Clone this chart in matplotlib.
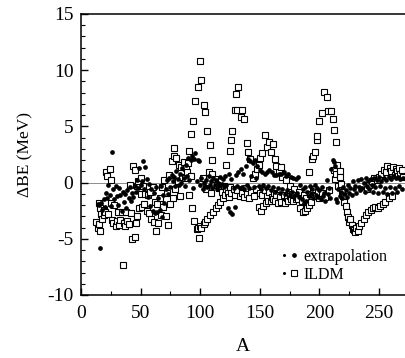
import numpy as np
import matplotlib
matplotlib.use("Agg")
import matplotlib.pyplot as plt
from matplotlib.lines import Line2D
from matplotlib.legend_handler import HandlerTuple

plt.rcParams['font.family'] = ['Liberation Serif', 'DejaVu Serif']
plt.rcParams['axes.unicode_minus'] = False

# extrapolation (filled circles)
ext_A = [14, 15, 16, 17, 18, 19, 20, 21, 22, 23, 24, 25, 26, 27, 28, 29, 30, 31, 32, 33,
         34, 35, 36, 37, 38, 39, 40, 41, 42, 43, 44, 45, 46, 47, 48, 49, 50, 51, 52, 53,
         54, 55, 56, 57, 58, 59, 60, 61, 62, 63, 64, 65, 66, 67, 68, 69, 70, 71, 72, 73,
         74, 75, 76, 77, 78, 79, 80, 81, 82, 83, 84, 85, 86, 87, 88, 89, 90, 91, 92, 93,
         94, 95, 96, 97, 98, 99, 100, 101, 102, 103, 104, 105, 106, 107, 108, 109, 110,
         111, 112, 113, 114, 115, 116, 117, 118, 119, 120, 121, 122, 123, 124, 125, 126,
         127, 128, 129, 130, 131, 132, 133, 134, 135, 136, 137, 138, 139, 140, 141, 142,
         143, 144, 145, 146, 147, 148, 149, 150, 151, 152, 153, 154, 155, 156, 157, 158,
         159, 160, 161, 162, 163, 164, 165, 166, 167, 168, 169, 170, 171, 172, 173, 174,
         175, 176, 177, 178, 179, 180, 181, 182, 183, 184, 185, 186, 187, 188, 189, 190,
         191, 192, 193, 194, 195, 196, 197, 198, 199, 200, 201, 202, 203, 204, 205, 206,
         207, 208, 209, 210, 211, 212, 213, 214, 215, 216, 217, 218, 219, 220, 221, 222,
         223, 224, 225, 226, 227, 228, 229, 230, 231, 232, 233, 234, 235, 236, 237, 238,
         239, 240, 241, 242, 243, 244, 245, 246, 247, 248, 249, 250, 251, 252, 253, 254,
         255, 256, 257, 258, 259, 260, 261, 262, 263, 264, 265, 266, 267, 268, 269, 270]
ext_dBE = [-1.9, -2.0, -5.8, -1.8, -2.4, -1.5, -2.2, -0.9, -1.4, -0.2, -1.1, -2.1, 2.7, -0.6,
           -1.5, -0.3, -1.2, -2.0, -0.5, -1.1, -2.5, -0.8, -1.7, -1.0, -2.3, -0.7, -1.4, -0.4,
           -1.6, -0.9, -1.3, -0.3, -0.8, 0.2, -0.5, 1.3, -0.2, 0.1, 1.9, -0.6, 1.4, 0.3, -1.3,
           -0.1, -2.1, -0.6, -2.5, -0.9, -2.7, -0.4, -2.6, -1.4, -2.4, -0.3, -3.1, -1.1, -1.8,
           -0.6, 0.2, -1.0, 0.4, -0.4, 0.7, 0.1, 0.5, -0.3, 1.0, 0.3, -0.2, 0.8, 0.0, 1.3, 0.4,
           -0.3, 1.6, 0.6, 2.2, 0.2, 2.0, 2.4, -0.5, 2.1, 2.6, 0.1, 2.0, 1.9, -0.2, 0.4, -0.6,
           0.0, -0.3, 0.2, -0.4, 0.6, -0.2, 0.1, -0.5, 0.4, -0.2, 0.2, -0.6, 0.0, -0.3, 0.5,
           -0.1, 0.3, -0.4, 0.6, -0.2, -2.3, 0.8, -2.6, 0.3, -2.8, -0.5, -2.2, 0.7, -0.3, 0.9,
           -0.5, 1.2, -0.4, 0.8, -0.6, 1.5, -0.2, 2.1, -0.5, 1.9, 0.6, 1.7, -0.4, 2.0, 0.4, 1.5,
           -0.3, 1.1, -0.6, 0.9, -0.2, 0.8, -0.5, 0.9, -0.3, 1.1, -0.7, 0.9, -0.4, 0.7, -0.8,
           0.7, -0.5, 0.8, -0.9, 0.8, -0.6, 0.9, -1.0, 0.6, -0.7, 0.8, -1.1, 0.5, -0.8, 0.4,
           -1.2, 0.3, -0.9, 0.5, -1.3, -0.2, -1.5, -0.6, -1.8, -0.4, -1.6, -0.8, -1.2, -0.3,
           -1.0, -0.6, -1.4, -0.2, -1.1, -0.5, -1.3, -0.7, -1.5, -0.4, -1.2, -0.9, -1.6, 0.2,
           -1.0, -0.5, -1.4, 1.2, 2.0, 1.8, 1.5, -1.5, -1.7, -0.6, -1.2, -0.8, -1.4, -0.4, -1.0,
           -0.7, -1.3, -0.2, -0.9, -0.5, -1.1, 0.1, -0.6, -0.3, -0.9, 0.2, -0.4, -0.7, 0.3,
           -0.5, 0.0, -0.8, 0.4, -0.3, 0.1, -0.6, 0.3, -0.2, -0.8, 0.4, -0.4, 0.2, -0.9, 0.5,
           -0.3, 0.1, -0.8, 0.4, -0.5, 0.2, -1.0, 0.5, -0.4, 0.3, -0.9, 0.6, -0.5, 0.4, -0.8,
           0.5, -0.3, 0.3, -0.6, 0.4]

# ILDM (open squares)
ildm_A = [13, 14, 15, 15, 16, 16, 17, 18, 19, 19, 20, 21, 22, 23, 24, 25, 25, 26, 27, 28,
          29, 30, 31, 32, 33, 34, 35, 36, 37, 38, 39, 40, 41, 42, 43, 44, 45, 45, 46, 47,
          47, 48, 49, 50, 50,
          51, 52, 53, 54, 55, 56, 57, 58, 59, 60, 61, 62, 63, 64, 65, 66, 67, 68, 69, 70,
          71, 72, 73, 74, 75,
          76, 77, 78, 78, 79, 80, 81, 82, 83, 84, 85, 86, 87, 88, 89, 90, 91, 91, 92, 92,
          93, 94, 95, 96, 97, 98, 98, 99, 100, 100,
          101, 101, 102, 103, 103, 104, 104, 105, 106, 106, 107, 108, 108, 109, 110, 110,
          111, 112, 113, 114, 115, 116, 117, 118, 119, 120, 121, 122, 122, 123, 124, 125, 125,
          126, 126, 127, 128, 129, 129, 130, 131, 131, 132, 133, 134, 135, 135, 137, 137,
          138, 139, 139, 140, 141, 142, 143, 144, 145, 146, 147, 148, 149, 149, 150, 150,
          151, 152, 152, 153, 154, 154, 155, 156, 156, 157, 158, 158, 159, 159, 160, 161,
          161, 162, 163, 163, 164, 164, 165, 166, 167, 168, 168, 169, 170, 171, 172, 173,
          174, 175, 175,
          176, 177, 178, 179, 180, 181, 182, 183, 184, 185, 186, 187, 188, 189, 190, 191,
          191, 192, 193, 194, 195, 195, 196, 197, 198, 198, 199, 200, 200,
          202, 202, 204, 205, 206, 207, 208, 210, 211, 212, 212, 213, 214, 214, 215, 216,
          217, 217, 218, 219, 220, 221, 222, 223, 224, 225,
          226, 227, 228, 229, 230, 231, 232, 233, 235, 237, 239, 240, 241, 242, 243, 244,
          245, 246, 247, 248, 249, 250, 251, 252, 253, 254, 255, 256, 257, 258, 259, 260,
          261, 262, 263, 264, 265, 266, 267, 268, 269, 270]
ildm_dBE = [-3.5, -4.0, -3.7, -1.8, -4.3, -2.3, -2.8, -3.2, -2.4, -2.9, -2.6, 0.9, 0.6, -2.8,
            1.2, 0.2, -1.8, -3.3, -3.6, -2.0, -3.9, -3.4, -2.6, -3.8, -3.3, -2.6, -7.3, -3.6,
            -3.9, -2.6, -3.4, -3.7, -0.2, -2.7, -5.0, 1.5, -4.8, 1.1, -3.6, -0.3, -3.0, 0.1,
            -2.3, 0.4, -1.0,
            -2.2, -0.3, -1.9, -1.0, -2.5, -1.1, -2.7, -0.8, -3.2, -0.4, -3.5, -1.7, -4.3, -1.9,
            -3.6, -1.4, -2.9, -0.4, -2.2, 0.2, -3.0, -0.9, -3.8, 0.7, -1.9,
            1.9, -1.4, 3.1, 2.4, -0.6, 2.2, 0.1, 1.6, -1.2, 1.4, 0.5, 1.8, 0.4, 1.3, 0.9, 1.7,
            2.8, -1.1, 4.3, 0.6, -2.3, 5.5, -3.4, 7.3, -4.1, 8.5, -4.0, -4.9, 10.8, -3.9,
            9.1, -4.0, 0.4, 6.9, -3.7, 6.3, -3.5, -0.6, 4.6, -3.2, 0.9, 3.3, -2.9, -0.9, 2.0,
            0.8, -2.6, 0.3, -2.3, -0.2, -2.0, -0.5, -1.7, -0.8, -1.4, -0.3, -1.1, 1.6, -0.6,
            -0.9, -1.3, 2.8, -0.4,
            3.8, -0.9, 4.6, -0.6, 6.5, -1.1, 7.9, 6.5, -0.7, 8.5, -1.2, 5.8, 6.5, -0.9, 5.7,
            -1.3, -0.5, 3.5, -1.0, 2.7, -1.4, 2.1, -0.8, 0.4, -1.2, 0.8, -0.6, 1.2, 1.6, -2.2,
            2.2, -0.9,
            -2.5, 2.6, -1.1, -2.1, 4.2, -0.7, -1.8, 3.2, -1.2, -1.6, 3.6, -0.8, 2.7, -1.6,
            -1.3, 3.4, -1.5, -0.9, 2.1, -1.6, 1.5, -1.1, -1.8, 0.9, -1.3, 1.4, -1.7, 0.5, -1.1,
            -1.8, 0.2, -1.4, -1.6, -0.3, -1.2,
            -1.5, -1.0, -1.6, -0.6, -1.5, -1.3, -1.5, -0.8, -2.3, -1.6, -2.6, -1.1, -2.5, -1.4,
            -2.3, 0.9, -2.0, -1.0, -1.7, 2.1, 2.4, -0.6, 2.7, -1.2, 3.8, 4.1, -0.8, 5.5, -1.4,
            6.2, -0.9, 8.1, -1.3, 7.6, 6.4, -0.7, 6.4, 5.7, 4.7, 1.1, 0.3, 3.6, 0.8, 1.6, -0.3,
            1.0, 0.5, -0.1, -0.8, -1.2, -1.7, -2.1, -2.6, -3.1, -3.5,
            -3.2, -3.8, -4.1, -4.2, -4.4, -4.0, -4.3, -3.9, -3.6, -3.2, -2.9, -0.6, -2.6, -0.2,
            -2.4, 0.1, -2.3, 0.4, -2.2, 0.2, -2.3, 0.5, -2.1, 0.8, -1.9, 1.1, -1.7, 0.9, 1.5,
            -1.4, 1.3, 1.0, -1.2, 1.4, 0.7, 1.2, 1.0, 0.6, 1.3, 0.8, 1.1, 0.5]

x_ticks = [0, 50, 100, 150, 200, 250]
y_ticks = [-10, -5, 0, 5, 10, 15]

fig = plt.figure(figsize=(4.05, 3.58), dpi=100)
ax = fig.add_axes([0.2, 0.176, 0.8006, 0.785])

ax.axhline(0, color='0.55', lw=0.7, zorder=1)
ax.plot(ildm_A, ildm_dBE, 's', ms=4.2, mfc='white', mec='black', mew=0.8, zorder=2)
ax.plot(ext_A, ext_dBE, 'o', ms=3.4, color='black', mew=0, zorder=3)

ax.set_xlim(0, 272)
ax.set_ylim(-10, 15)
ax.set_xticks(x_ticks)
ax.set_yticks(y_ticks)
ax.set_xticks(np.arange(0, 275, 25), minor=True)
ax.set_yticks(np.arange(-10, 16, 1), minor=True)
ax.tick_params(direction='in', labelsize=14, length=5, width=1)
ax.tick_params(axis='x', pad=7.5)
ax.tick_params(axis='y', pad=5.5)
ax.tick_params(which='minor', direction='in', length=3, width=0.8)
for s in ax.spines.values():
    s.set_linewidth(1.1)
ax.spines['right'].set_visible(False)

ax.set_xlabel('A', fontsize=14, labelpad=11)
ax.set_ylabel('ΔBE (MeV)', fontsize=12.5, labelpad=10)

# legend handles: small leader dot followed by the marker
lead = Line2D([], [], ls='none', marker='o', ms=1.2, color='black')
h_ext = Line2D([], [], ls='none', marker='o', ms=3.4, color='black', mew=0)
h_ildm = Line2D([], [], ls='none', marker='s', ms=4.2, mfc='white', mec='black', mew=0.8)
ax.legend([(lead, h_ext), (lead, h_ildm)], ['extrapolation', 'ILDM'],
          handler_map={tuple: HandlerTuple(ndivide=None, pad=0.2)},
          loc='lower right', bbox_to_anchor=(0.975, 0.01), frameon=False,
          fontsize=11.5, handlelength=1.0, handletextpad=0.4, labelspacing=0.1,
          borderpad=0.1)

fig.savefig('out.png', dpi=100)
